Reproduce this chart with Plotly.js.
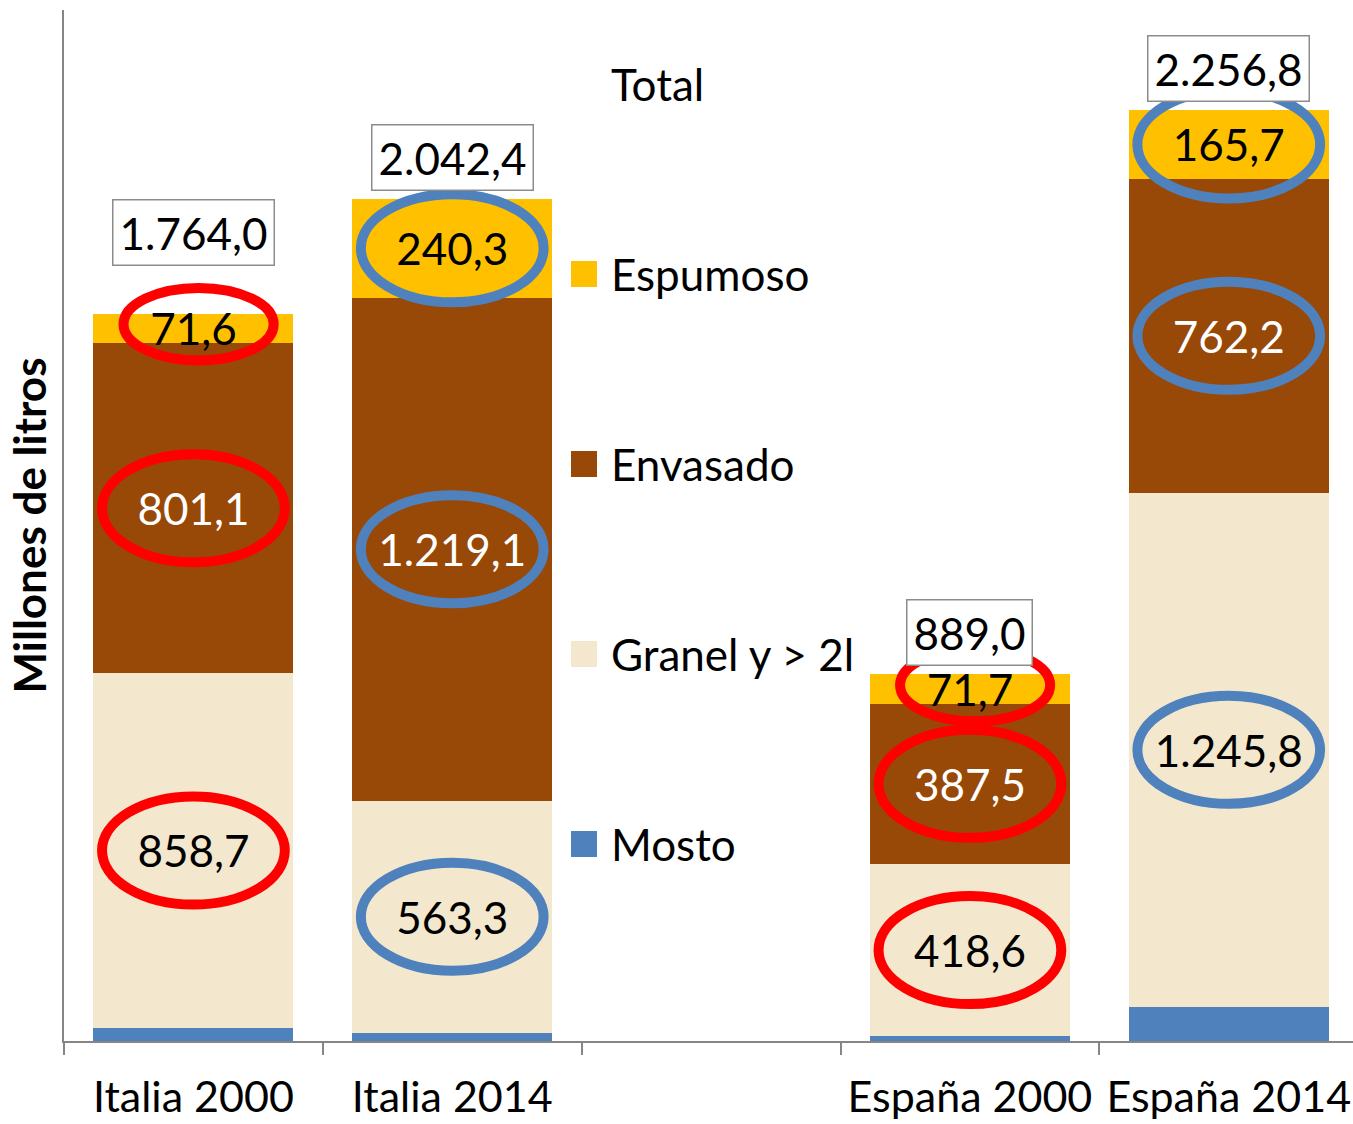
<!DOCTYPE html>
<html>
<head>
<meta charset="utf-8">
<script src="https://cdn.plot.ly/plotly-3.0.1.min.js"></script>
<style>html,body{margin:0;padding:0;background:#fff;}#chart{width:1353px;height:1124px;}</style>
</head>
<body>
<div id="chart"></div>
<script>
// ---- data ----
const categories = ['Italia 2000', 'Italia 2014', ' ', 'España 2000', 'España 2014'];
const mosto    = [32.6, 19.7, null, 11.2, 83.1];
const granel   = [858.7, 563.3, null, 418.6, 1245.8];
const envasado = [801.1, 1219.1, null, 387.5, 762.2];
const espumoso = [71.6, 240.3, null, 71.7, 165.7];
const total    = [1764.0, 2042.4, null, 889.0, 2256.8];
const seriesNames = ['Mosto', 'Granel y > 2l', 'Envasado', 'Espumoso'];
const totalName = 'Total';
const yTitle = 'Millones de litros';

// ---- style ----
const FONT = 'Lato, "Open Sans", sans-serif';
const colors = {Mosto: '#4F81BD', Granel: '#F3E8CE', Envasado: '#984807', Espumoso: '#FFC000'};
const ringColors = ['#FF0000', '#4F81BD', null, '#FF0000', '#4F81BD'];
const totalShift = [48, 8, 0, 8, 8];
const W = 1353, H = 1124;
const M = {l: 64, r: 0, t: 10, b: 83};
const plotW = W - M.l - M.r, plotH = H - M.t - M.b;
const px2x = p => (p - M.l) / plotW;
const px2y = p => (H - M.b - p) / plotH;

function fmt(v) {
  if (v == null) return '';
  const s = v.toFixed(1).split('.');
  const intPart = s[0].replace(/\B(?=(\d{3})+(?!\d))/g, '.');
  return intPart + ',' + s[1];
}

function barTrace(name, vals, color, txtColor, withText) {
  return {
    type: 'bar', name: name, x: categories, y: vals,
    marker: {color: color, line: {width: 0}},
    text: withText ? vals.map(fmt) : undefined,
    textposition: withText ? 'inside' : 'none',
    insidetextanchor: 'middle',
    textangle: 0,
    constraintext: 'none',
    insidetextfont: {family: FONT, size: 44, color: txtColor},
    hoverinfo: 'skip'
  };
}

const traces = [
  barTrace(seriesNames[0], mosto, colors.Mosto, '#000', false),
  barTrace(seriesNames[1], granel, colors.Granel, '#000', true),
  barTrace(seriesNames[2], envasado, colors.Envasado, '#fff', true),
  barTrace(seriesNames[3], espumoso, colors.Espumoso, '#000', true)
];

// ---- rings around segment labels ----
const shapes = [];
const annotations = [];
const BARW = 0.773;
for (let i = 0; i < categories.length; i++) {
  if (total[i] == null) continue;
  const segs = [
    {base: mosto[i], v: granel[i]},
    {base: mosto[i] + granel[i], v: envasado[i]},
    {base: mosto[i] + granel[i] + envasado[i], v: espumoso[i]}
  ];
  segs.forEach(s => {
    const c = s.base + s.v / 2;
    const small = s.v < 100;
    const hw = small ? 0.29 : 0.353;
    const hh = small ? 88 : 131;
    const cy = small ? c + 10 : c;
    const cx = small ? i + 0.02 : i;
    shapes.push({
      type: 'circle', xref: 'x', yref: 'y',
      x0: cx - hw, x1: cx + hw, y0: cy - hh, y1: cy + hh,
      line: {color: ringColors[i], width: 10}, fillcolor: 'rgba(0,0,0,0)', layer: 'above'
    });
  });
  annotations.push({
    xref: 'x', yref: 'y', x: categories[i], y: total[i],
    yanchor: 'bottom', xanchor: 'center', yshift: totalShift[i],
    text: fmt(total[i]), showarrow: false,
    font: {family: FONT, size: 44, color: '#000'},
    bordercolor: '#8C8C8C', borderwidth: 1.5, borderpad: 6, bgcolor: '#fff'
  });
}

// ---- legend (drawn manually) ----
const legendItems = [
  {name: totalName, color: null},
  {name: seriesNames[3], color: colors.Espumoso},
  {name: seriesNames[2], color: colors.Envasado},
  {name: seriesNames[1], color: colors.Granel},
  {name: seriesNames[0], color: colors.Mosto}
];
legendItems.forEach((it, k) => {
  const cy = 84 + k * 190;
  if (it.color) {
    shapes.push({
      type: 'rect', xref: 'paper', yref: 'paper',
      x0: px2x(571), x1: px2x(597), y0: px2y(cy + 13), y1: px2y(cy - 13),
      fillcolor: it.color, line: {width: 0}
    });
  }
  annotations.push({
    xref: 'paper', yref: 'paper', x: px2x(609), y: px2y(cy),
    xanchor: 'left', yanchor: 'middle', text: it.name, showarrow: false,
    font: {family: FONT, size: 44, color: '#000'}
  });
});

const layout = {
  width: W, height: H,
  margin: M,
  paper_bgcolor: '#fff', plot_bgcolor: '#fff',
  barmode: 'stack', bargap: 1 - BARW,
  showlegend: false,
  xaxis: {
    type: 'category', range: [-0.5, 4.48], tickson: 'boundaries',
    ticks: 'outside', ticklen: 12, tickwidth: 2, tickcolor: '#868686',
    showline: true, linecolor: '#868686', linewidth: 2,
    showgrid: false, zeroline: false, tickangle: 0,
    ticklabelstandoff: 17,
    tickfont: {family: FONT, size: 43, color: '#000'}
  },
  yaxis: {
    range: [0, 2500], showline: true, linecolor: '#868686', linewidth: 2,
    showticklabels: false, ticks: '', showgrid: false, zeroline: false,
    title: {text: yTitle, font: {family: FONT, size: 44, color: '#000', weight: 'bold'}, standoff: 2}
  },
  shapes: shapes,
  annotations: annotations
};

Plotly.newPlot('chart', traces, layout, {displayModeBar: false, staticPlot: true});
</script>
</body>
</html>
